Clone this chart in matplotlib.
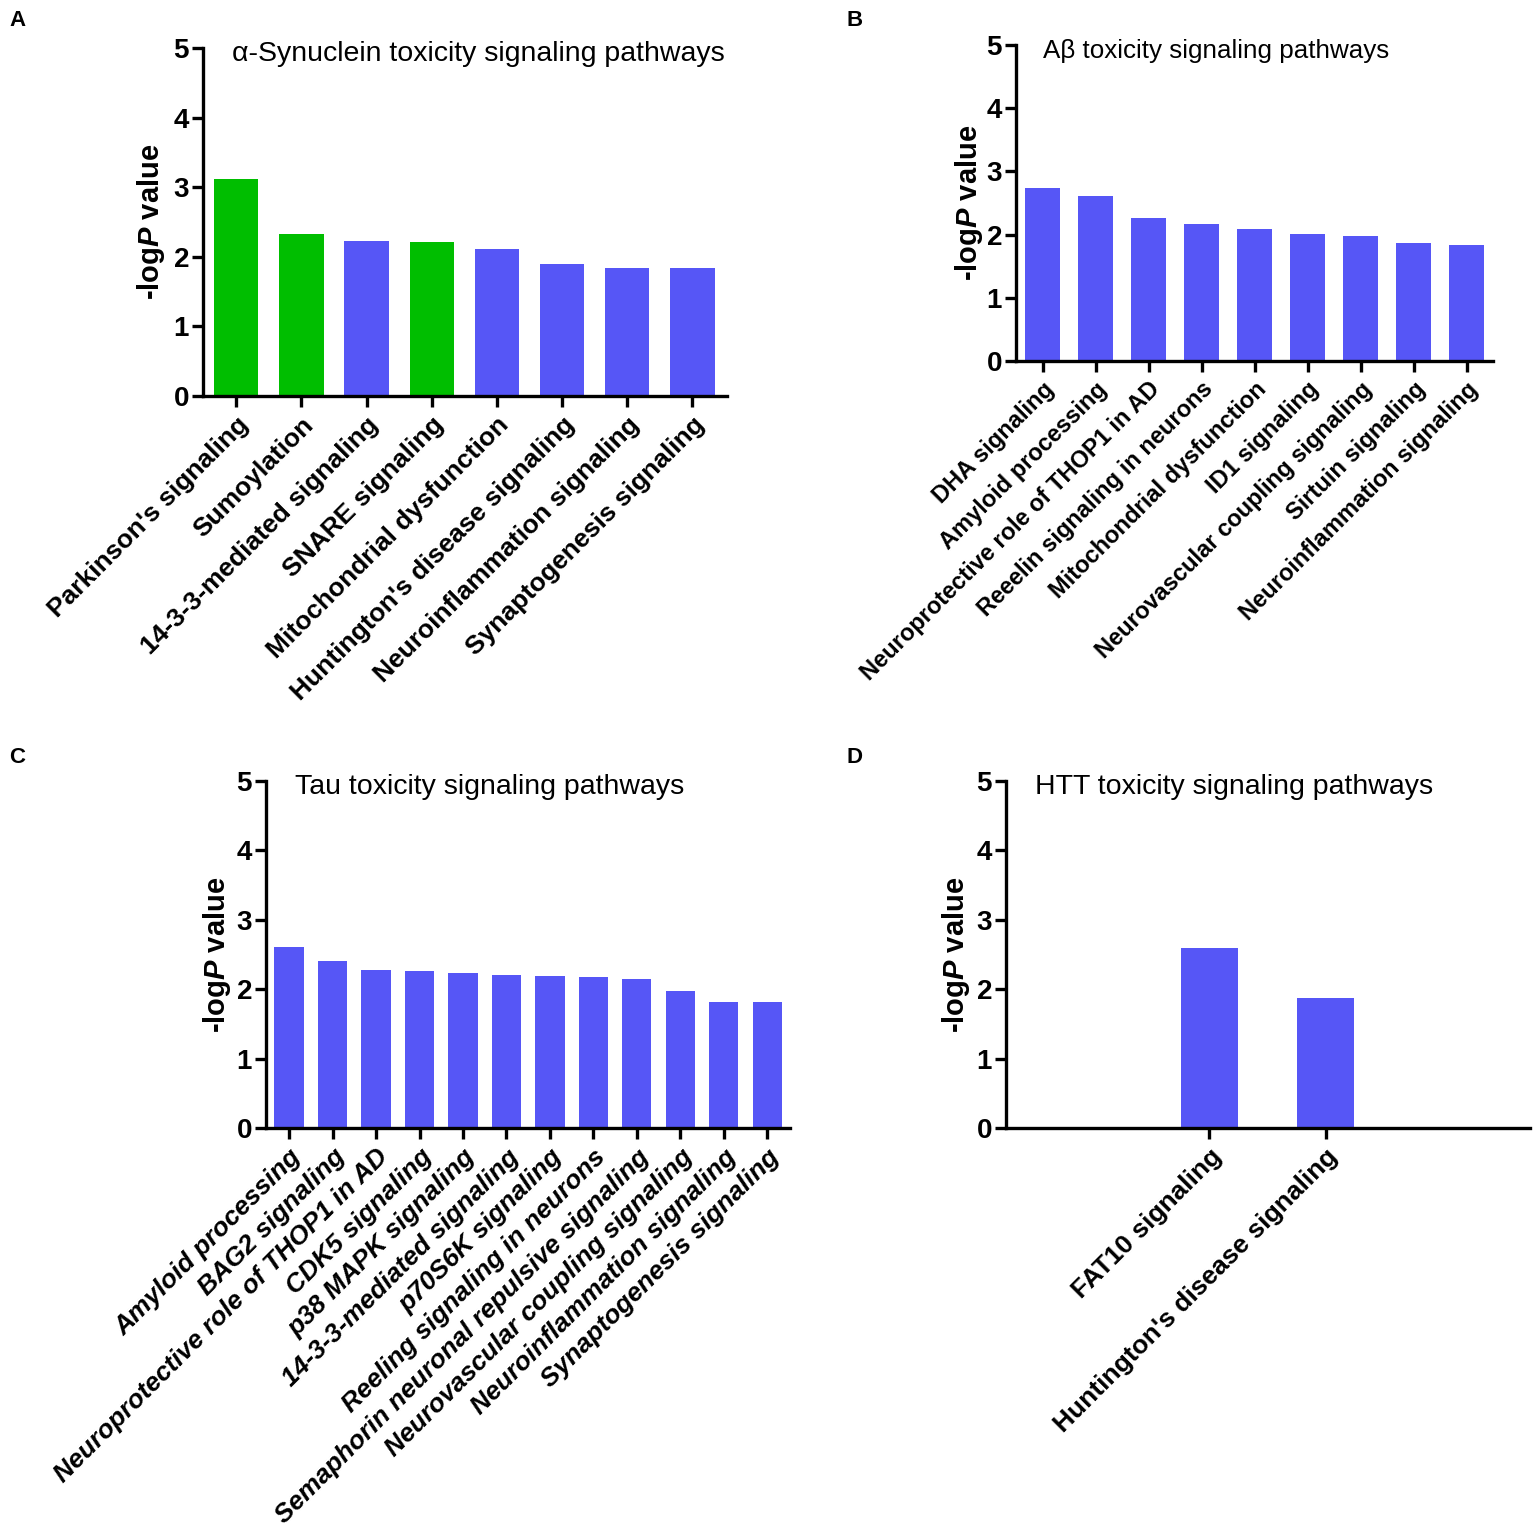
import numpy as np
import matplotlib
matplotlib.use("Agg")
import matplotlib.pyplot as plt

plt.rcParams['font.family'] = ['Liberation Sans', 'DejaVu Sans']
plt.rcParams['mathtext.fontset'] = 'custom'
plt.rcParams['mathtext.it'] = 'Liberation Sans:italic:bold'
plt.rcParams['mathtext.rm'] = 'Liberation Sans:bold'

GREEN = '#00BE00'
BLUE = '#5656F6'

# panel A
syn_labels = ["Parkinson's signaling", "Sumoylation", "14-3-3-mediated signaling",
              "SNARE signaling", "Mitochondrial dysfunction", "Huntington's disease signaling",
              "Neuroinflammation signaling", "Synaptogenesis signaling"]
syn_values = [3.12, 2.33, 2.23, 2.21, 2.11, 1.89, 1.84, 1.84]
syn_green = [True, True, False, True, False, False, False, False]

# panel B
ab_labels = ["DHA signaling", "Amyloid processing", "Neuroprotective role of THOP1 in AD",
             "Reeelin signaling in neurons", "Mitochondrial dysfunction", "ID1 signaling",
             "Neurovascular coupling signaling", "Sirtuin signaling", "Neuroinflammation signaling"]
ab_values = [2.73, 2.61, 2.26, 2.17, 2.09, 2.01, 1.98, 1.86, 1.83]

# panel C
tau_labels = ["Amyloid processing", "BAG2 signaling", "Neuroprotective role of THOP1 in AD",
              "CDK5 signaling", "p38 MAPK signaling", "14-3-3-mediated signaling",
              "p70S6K signaling", "Reeling signaling in neurons",
              "Semaphorin neuronal repulsive signaling", "Neurovascular coupling signaling",
              "Neuroinflammation signaling", "Synaptogenesis signaling"]
tau_values = [2.61, 2.41, 2.27, 2.26, 2.24, 2.21, 2.19, 2.17, 2.15, 1.98, 1.82, 1.82]

# panel D
htt_labels = ["FAT10 signaling", "Huntington's disease signaling"]
htt_values = [2.59, 1.87]

W, H = 1535, 1532
fig = plt.figure(figsize=(W / 100, H / 100), dpi=100)


def px_axes(left, right, top, bottom):
    return fig.add_axes([left / W, 1 - bottom / H, (right - left) / W, (bottom - top) / H])


def panel(ax, labels, values, colors, title, xlim, width, lab_size=19, title_size=20.5,
          italic=False, ylab_x=-0.066):
    x = np.arange(len(values))
    ax.bar(x, values, width=width, color=colors, linewidth=0)
    ax.set_xlim(*xlim)
    ax.set_ylim(0, 5)
    ax.set_yticks(range(6))
    ax.set_xticks(x)
    ax.set_xticklabels(labels, rotation=45, ha='right', rotation_mode='anchor',
                       fontsize=lab_size, fontweight='bold', style='italic' if italic else 'normal')
    for s in ['top', 'right']:
        ax.spines[s].set_visible(False)
    for s in ['left', 'bottom']:
        ax.spines[s].set_linewidth(2.4)
    ax.tick_params(axis='both', width=2.4, length=8)
    ax.tick_params(axis='y', pad=2, labelsize=20)
    ax.tick_params(axis='x', pad=4)
    for t in ax.get_yticklabels():
        t.set_fontweight('bold')
    ax.set_ylabel(r'-log$\mathit{P}$ value', fontsize=21, fontweight='bold')
    ax.yaxis.set_label_coords(ylab_x, 0.5)
    ax.text(0.056, 0.982, title, transform=ax.transAxes, fontsize=title_size,
            va='center', ha='left')


axA = px_axes(203, 727, 48, 396)
panel(axA, syn_labels, syn_values, [GREEN if g else BLUE for g in syn_green],
      "\u03b1-Synuclein toxicity signaling pathways", (-0.51, 7.53), 0.68, ylab_x=-0.068)

axB = px_axes(1016, 1493, 45, 361)
panel(axB, ab_labels, ab_values, BLUE,
      "A\u03b2 toxicity signaling pathways", (-0.5, 8.5), 0.66,
      lab_size=17, title_size=18.7, ylab_x=-0.064)

axC = px_axes(266, 790, 781, 1128)
panel(axC, tau_labels, tau_values, BLUE,
      "Tau toxicity signaling pathways", (-0.53, 11.52), 0.67, italic=True, ylab_x=-0.063)

axD = px_axes(1006, 1530, 781, 1128)
panel(axD, htt_labels, htt_values, BLUE,
      "HTT toxicity signaling pathways", (-1.75, 2.76), 0.49, ylab_x=-0.065)

for letter, (lx, ly) in zip("ABCD", [(9, 20), (847, 20), (9, 757), (847, 757)]):
    fig.text(lx / W, 1 - ly / H, letter, fontsize=16, fontweight='bold', va='center', ha='left')

fig.savefig("out.png", dpi=100)
